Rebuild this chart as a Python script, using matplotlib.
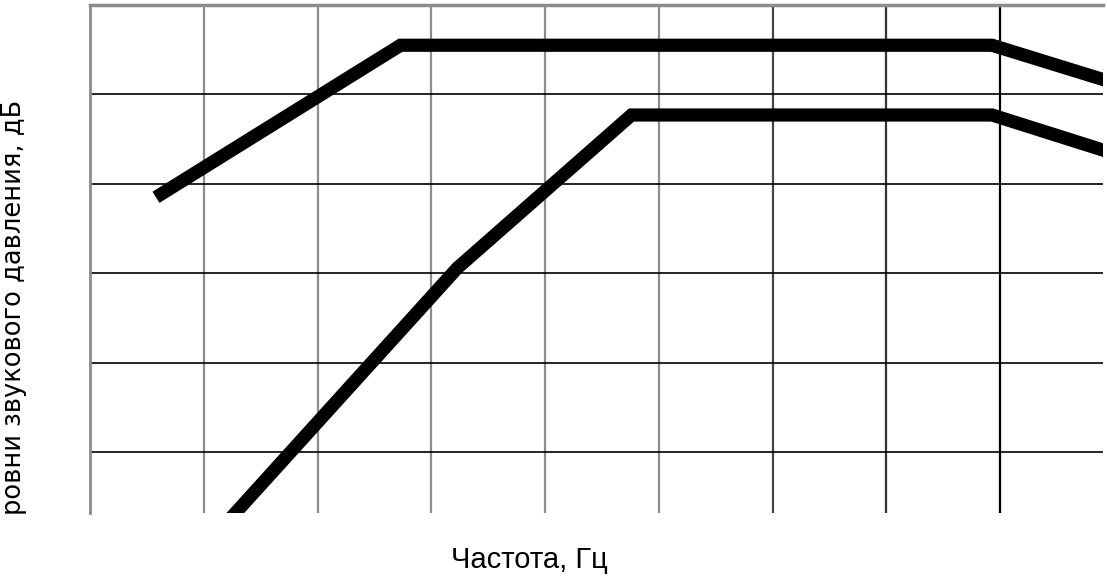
import numpy as np
import matplotlib
matplotlib.use('Agg')
import matplotlib.pyplot as plt

# Upper curve (grid units along x, dB along y)
upper_x = [0.58, 2.73, 7.93, 9.0]
upper_y = [68.5, 85.5, 85.5, 81.3]

# Lower curve
lower_x = [1.0, 3.23, 4.76, 7.93, 9.0]
lower_y = [29.3, 60.6, 77.7, 77.7, 73.4]

# grid positions
vlines = [1, 2, 3, 4, 5, 6, 7, 8]
vcolors = ['#8c8c8c', '#8c8c8c', '#8c8c8c', '#8c8c8c', '#8c8c8c', '#444444', '#333333', '#000000']
hlines = [40, 50, 60, 70, 80]

fig = plt.figure(figsize=(11.07, 5.83), dpi=100)
ax = fig.add_axes([90 / 1107, 1 - 513 / 583, 1013 / 1107, 508 / 583])

for x, c in zip(vlines, vcolors):
    ax.axvline(x, color=c, lw=1.6, zorder=1)
for y in hlines:
    ax.axhline(y, color='black', lw=1.2, zorder=1)

ax.plot(upper_x, upper_y, color='black', lw=9.5, solid_capstyle='butt',
        solid_joinstyle='miter', zorder=3)
ax.plot(lower_x, lower_y, color='black', lw=9.5, solid_capstyle='butt',
        solid_joinstyle='miter', zorder=3)

ax.set_xlim(0, 1013 / 113.75)
ax.set_ylim(33.2, 90)
ax.set_xticks([])
ax.set_yticks([])
for s in ['right', 'bottom']:
    ax.spines[s].set_visible(False)
ax.spines['left'].set_color('#8c8c8c')
ax.spines['left'].set_linewidth(2)
ax.spines['top'].set_color('#8c8c8c')
ax.spines['top'].set_linewidth(2.5)

fig.text(14 / 1107, 1 - 307 / 583, 'ровни звукового давления, дБ', rotation=90,
         ha='center', va='center', fontsize=18.5, family=['DejaVu Sans'])
fig.text(529 / 1107, 1 - 560 / 583, 'Частота, Гц', ha='center', va='center',
         fontsize=21, family=['Liberation Sans', 'DejaVu Sans'])

fig.savefig('out.png', dpi=100, facecolor='white')
